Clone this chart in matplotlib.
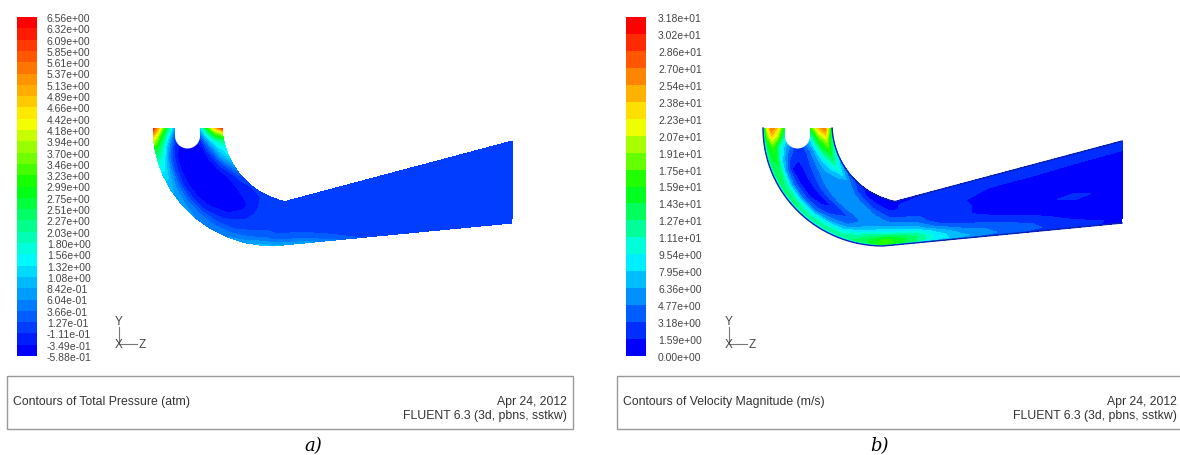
import numpy as np
import matplotlib
matplotlib.use('Agg')
import matplotlib.pyplot as plt
from matplotlib.colors import LinearSegmentedColormap
from matplotlib.patches import Rectangle, Circle

plt.rcParams['font.family'] = ['Liberation Sans', 'DejaVu Sans']

W, H = 1180, 456

levels_a = [-0.588, -0.349, -0.111, 0.127, 0.366, 0.604, 0.842, 1.08, 1.32, 1.56, 1.80,
            2.03, 2.27, 2.51, 2.75, 2.99, 3.23, 3.46, 3.70, 3.94, 4.18,
            4.42, 4.66, 4.89, 5.13, 5.37, 5.61, 5.85, 6.09, 6.32, 6.56]
levels_b = [0.0, 1.59, 3.18, 4.77, 6.36, 7.95, 9.54, 11.1, 12.7, 14.3, 15.9,
            17.5, 19.1, 20.7, 22.3, 23.8, 25.4, 27.0, 28.6, 30.2, 31.8]

# duct stations (0-1 round the bend, 1-2 along the straight part), across = outer wall to inner wall
stations = [0, 0.05, 0.11, 0.18, 0.26, 0.35, 0.45, 0.55, 0.65, 0.75, 0.85, 0.95,
            1.0, 1.13, 1.22, 1.32, 1.45, 1.6, 1.8, 2.0]
across = [0, 0.05, 0.12, 0.2, 0.3, 0.42, 0.55, 0.68, 0.8, 0.9, 1.0]

pressure = [
    [6.2, 5.4, 4.0, 2.5, 0.9, -0.5, -0.5, 1.0, 3.2, 4.8, 6.0],
    [4.6, 4.0, 2.8, 1.6, 0.2, -0.5, -0.5, 0.4, 2.0, 3.3, 4.0],
    [2.8, 2.6, 1.8, 0.7, -0.2, -0.5, -0.5, -0.2, 1.0, 1.9, 2.4],
    [1.8, 1.7, 1.1, 0.2, -0.4, -0.55, -0.55, -0.4, 0.4, 1.2, 1.6],
    [1.2, 1.2, 0.7, 0.0, -0.45, -0.55, -0.55, -0.5, 0.0, 0.8, 1.3],
    [0.9, 0.8, 0.4, -0.1, -0.45, -0.55, -0.55, -0.5, -0.3, 0.2, 0.8],
    [0.7, 0.6, 0.3, -0.15, -0.45, -0.55, -0.55, -0.5, -0.4, -0.2, 0.3],
    [0.6, 0.5, 0.3, -0.1, -0.35, -0.5, -0.55, -0.5, -0.4, -0.2, 0.0],
    [0.55, 0.45, 0.25, 0.0, -0.2, -0.4, -0.55, -0.5, -0.3, -0.2, -0.1],
    [0.6, 0.5, 0.3, 0.1, 0.0, -0.15, -0.25, -0.3, -0.2, -0.15, -0.05],
    [0.7, 0.6, 0.4, 0.2, 0.1, 0.0, 0.0, 0.0, 0.0, 0.0, 0.0],
    [0.95, 0.8, 0.5, 0.3, 0.15, 0.05, 0.0, 0.0, 0.0, 0.0, 0.0],
    [0.9, 0.7, 0.4, 0.2, 0.1, 0.0, 0.0, 0.0, 0.0, 0.0, 0.0],
    [0.7, 0.5, 0.3, 0.15, 0.05, 0.0, 0.0, 0.0, 0.0, 0.0, 0.0],
    [0.5, 0.3, 0.15, 0.0, 0.0, 0.0, 0.0, 0.0, 0.0, 0.0, 0.0],
    [0.2, 0.1, 0.0, 0.0, 0.0, 0.0, 0.0, 0.0, 0.0, 0.0, 0.0],
    [0.0, 0.0, 0.0, 0.0, 0.0, 0.0, 0.0, 0.0, 0.0, 0.0, 0.0],
    [0.0, 0.0, 0.0, 0.0, 0.0, 0.0, 0.0, 0.0, 0.0, 0.0, 0.0],
    [0.0, 0.0, 0.0, 0.0, 0.0, 0.0, 0.0, 0.0, 0.0, 0.0, 0.0],
    [0.0, 0.0, 0.0, 0.0, 0.0, 0.0, 0.0, 0.0, 0.0, 0.0, 0.0],
]
velocity = [
    [10, 20, 27, 24, 15, 10, 10, 15, 24, 27, 12],
    [9, 17, 23, 20, 11, 6, 6, 11, 20, 24, 11],
    [8, 14, 17, 12, 7, 3.5, 3.5, 8, 16, 20, 10],
    [8, 14, 15, 9, 4, 2, 2.5, 6, 13, 17, 9],
    [8, 14, 13, 6, 1.5, 1.2, 2.8, 5.5, 10, 14, 8],
    [8, 13, 11, 5, 1.5, 1.2, 3.2, 5.5, 8, 11, 6],
    [7, 13, 10, 4.5, 1.5, 1.2, 4, 6, 6, 8, 4],
    [7, 12, 9.5, 4.5, 1.8, 1.2, 4.5, 6.2, 5.5, 5, 3],
    [6, 12, 10, 6, 3.5, 2, 5, 6.2, 5, 2.8, 1.5],
    [6, 12, 10, 7, 4.5, 3.5, 5.5, 6, 3.5, 1.4, 1],
    [6, 13, 12, 10, 7, 5.5, 5.5, 4.5, 2, 1.2, 1],
    [7, 15, 15, 13, 9, 6.5, 5, 3, 1.5, 1.2, 1],
    [8, 17, 17, 14, 9.5, 6.5, 4.5, 2.5, 1.5, 1.5, 1],
    [7, 13, 13, 11, 7, 4.5, 3, 2.2, 2, 2, 1.5],
    [6, 9, 9, 7, 4, 1.4, 2.2, 2.5, 2.5, 2.5, 2],
    [5, 7, 6, 4.5, 2.5, 1.8, 1.8, 1.6, 2, 3, 2.5],
    [4, 5, 4.5, 3.5, 1.8, 1, 1, 1, 1.4, 2.8, 3],
    [3, 3.5, 3.4, 2, 1.2, 0.9, 0.8, 1, 1.2, 2.5, 3],
    [2, 2.5, 1.4, 1, 0.9, 2, 0.8, 1, 1.2, 1.8, 3],
    [1.2, 1, 0.8, 0.7, 0.7, 0.7, 0.7, 0.8, 1, 1.7, 3],
]

rainbow = LinearSegmentedColormap.from_list('fluent', [(0, '#0000ff'), (0.28, '#00ffff'), (0.5, '#00ff00'),
                                                       (0.7, '#ffff00'), (1, '#ff0000')])


def wall_points(u, dx):
    # outer wall and inner wall of the duct, in pixels
    u = np.asarray(u, dtype=float)
    bend = np.clip(u, 0, 1)
    straight = np.clip(u - 1, 0, 1)
    a_out = np.radians(180 + 90 * bend)
    a_in = np.radians(183 + 76 * bend)
    xo = 273 + 120 * np.cos(a_out)
    yo = 129 - 118 * np.sin(a_out)
    xi = 300 + 78 * np.cos(a_in)
    yi = 125 - 79 * np.sin(a_in)
    xo = xo + (512 - 273) * straight + dx
    yo = yo + (224 - 247) * straight
    xi = xi + (512 - 285) * straight + dx
    yi = yi + (142 - 202.5) * straight
    return xo, yo, xi, yi


def draw_panel(ax, fig, dx, field, levels, wall, title, tag, tag_x, box_right, text_right):
    u, t = np.meshgrid(stations, across, indexing='ij')
    xo, yo, xi, yi = wall_points(u, dx)
    X = xo + (xi - xo) * t
    Y = yo + (yi - yo) * t
    colors = [rainbow(v) for v in np.linspace(0, 1, len(levels) - 1)]
    cs = ax.contourf(X, Y, np.array(field), levels=levels, colors=colors)

    # notch at the top of the bend
    ax.add_patch(Rectangle((175 + dx, 125), 25, 12, fc='white', ec='none', zorder=3))
    ax.add_patch(Circle((187.5 + dx, 137), 12.5, fc='white', ec='none', zorder=3))

    if wall:
        fine = np.linspace(0, 2, 200)
        xo2, yo2, xi2, yi2 = wall_points(fine, dx)
        ax.plot(xo2, yo2, color='#0a22b0', lw=1, zorder=2)
        ax.plot(xi2, yi2, color='#0a22b0', lw=1, zorder=2)

    cax = fig.add_axes([(17 + dx + (0 if dx == 0 else -1)) / W, 1 - 357 / H, 20 / W, 339 / H])
    cb = fig.colorbar(cs, cax=cax, ticks=levels, spacing='uniform')
    cb.outline.set_visible(False)
    cb.set_ticklabels([f'{v:.2e}' for v in levels])
    cax.tick_params(length=0, pad=7 if dx == 0 else 8.7, labelsize=7.5, labelcolor='#444444')

    # axis triad
    ax.plot([119 + dx, 119 + dx, 137 + dx], [328, 345, 345], color='#777777', lw=0.8)
    for s, x, y in [('Y', 119, 322), ('X', 119, 345), ('Z', 142, 345)]:
        ax.text(x + dx, y, s, ha='center', va='center', fontsize=8.5, color='#444444')

    # caption box
    ax.add_patch(Rectangle((7 + dx, 377), box_right - 7 - dx, 53, fc='white', ec='#999999', lw=1))
    ax.text(13 + dx, 402, title, ha='left', va='center', fontsize=8.8, color='#333333')
    ax.text(text_right, 402, 'Apr 24, 2012', ha='right', va='center', fontsize=8.8, color='#333333')
    ax.text(text_right, 416, 'FLUENT 6.3 (3d, pbns, sstkw)', ha='right', va='center', fontsize=8.8, color='#333333')
    ax.text(tag_x, 446, tag, ha='center', va='center', fontsize=13, style='italic',
            family='DejaVu Serif', color='black')


fig = plt.figure(figsize=(W / 100, H / 100), dpi=100)
ax = fig.add_axes([0, 0, 1, 1])
ax.set_xlim(0, W)
ax.set_ylim(H, 0)
ax.axis('off')

draw_panel(ax, fig, 0, pressure, levels_a, False, 'Contours of Total Pressure (atm)', 'a)', 313, 573, 567)
draw_panel(ax, fig, 610, velocity, levels_b, True, 'Contours of Velocity Magnitude (m/s)', 'b)', 879, 1190, 1177)

fig.savefig('out.png', dpi=100)
